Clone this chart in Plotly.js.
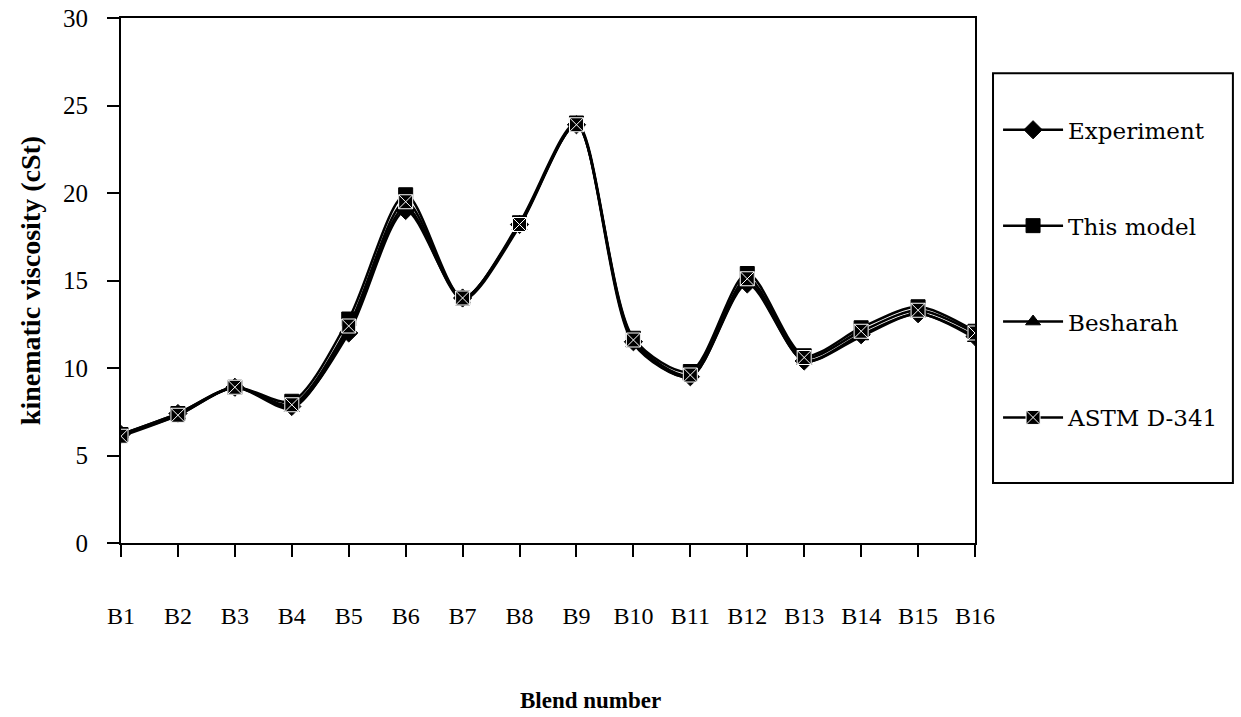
<!DOCTYPE html>
<html>
<head>
<meta charset="utf-8">
<script src="https://cdn.plot.ly/plotly-3.0.1.min.js"></script>
<style>
  html, body { margin: 0; padding: 0; background: #ffffff; }
  #chart { width: 1241px; height: 717px; }
</style>
</head>
<body>
<div id="chart"></div>
<script>
// Blend categories
const blends = ["B1","B2","B3","B4","B5","B6","B7","B8","B9","B10","B11","B12","B13","B14","B15","B16"];

// Kinematic viscosity (cSt)
const experiment = [6.2, 7.4, 8.9, 7.8, 12.0, 19.0, 14.0, 18.2, 23.9, 11.5, 9.5, 14.8, 10.4, 11.9, 13.1, 11.8];
const thisModel  = [6.2, 7.4, 8.9, 8.1, 12.8, 19.9, 14.0, 18.3, 24.0, 11.7, 9.8, 15.4, 10.7, 12.3, 13.5, 12.1];
const besharah   = [6.2, 7.3, 8.9, 7.7, 12.2, 19.2, 13.9, 18.1, 23.9, 11.4, 9.5, 14.9, 10.4, 11.8, 13.1, 11.7];
const astmD341   = [6.1, 7.3, 8.9, 7.9, 12.4, 19.5, 14.0, 18.2, 23.9, 11.6, 9.6, 15.1, 10.6, 12.1, 13.3, 12.0];

const seriesNames = ["Experiment", "This model", "Besharah", "ASTM D-341"];
const yTicks = [0, 5, 10, 15, 20, 25, 30];

const serif = "Liberation Serif, Times New Roman, serif";
const tickFontY = { family: serif, size: 25, color: "#000" };
const tickFontX = { family: serif, size: 24, color: "#000" };
const yTitleFont = { family: serif, size: 28, color: "#000", weight: "bold" };
const xTitleFont = { family: serif, size: 23, color: "#000", weight: "bold" };

function series(name, y, symbol, size, lineColor, group) {
  return {
    type: "scatter",
    mode: "lines+markers",
    name: name,
    legendgroup: group,
    x: blends,
    y: y,
    line: { color: "#000", width: 2.5, shape: "spline", smoothing: 0.8 },
    marker: { symbol: symbol, size: size, color: "#000", line: { color: lineColor, width: 1 } }
  };
}

const data = [
  series(seriesNames[0], experiment, "diamond", 14, "#000", "g1"),
  series(seriesNames[1], thisModel, "square", 14, "#000", "g2"),
  series(seriesNames[2], besharah, "triangle-up", 13, "#000", "g3"),
  series(seriesNames[3], astmD341, "square-x", 14, "#fff", "g4")
];

const layout = {
  width: 1241,
  height: 717,
  paper_bgcolor: "#ffffff",
  plot_bgcolor: "#ffffff",
  margin: { l: 121, r: 266, t: 18, b: 174, autoexpand: false },
  showlegend: true,
  legend: {
    x: 1.027, xanchor: "left",
    y: 0.828, yanchor: "top",
    bgcolor: "rgba(0,0,0,0)",
    borderwidth: 0,
    font: { family: "DejaVu Serif, Liberation Serif, serif", size: 23, color: "#000" },
    tracegroupgap: 63,
    itemwidth: 60
  },
  xaxis: {
    type: "category",
    range: [0, 15],
    showgrid: false,
    zeroline: false,
    showline: true,
    linecolor: "#000",
    linewidth: 2,
    mirror: true,
    ticks: "outside",
    ticklen: 12,
    tickwidth: 2,
    tickcolor: "#000",
    tickfont: tickFontX,
    ticklabelstandoff: 38,
    automargin: false
  },
  yaxis: {
    range: [0, 30],
    tickvals: yTicks,
    ticktext: yTicks.map(String),
    showgrid: false,
    zeroline: false,
    showline: true,
    linecolor: "#000",
    linewidth: 2,
    mirror: true,
    ticks: "outside",
    ticklen: 12,
    tickwidth: 2,
    tickcolor: "#000",
    tickfont: tickFontY,
    ticklabelstandoff: 14,
    automargin: false,
    title: { text: "kinematic viscosity (cSt)", font: yTitleFont, standoff: 14 }
  },
  annotations: [
    {
      text: "Blend number", xref: "paper", yref: "paper",
      x: 0.55, y: -0.30, xanchor: "center", yanchor: "middle",
      showarrow: false, font: xTitleFont
    }
  ],
  shapes: [
    {
      type: "rect", xref: "paper", yref: "paper",
      x0: 1.0211, x1: 1.302, y0: 0.1143, y1: 0.895,
      line: { color: "#000", width: 2 }, fillcolor: "rgba(0,0,0,0)"
    }
  ]
};

Plotly.newPlot("chart", data, layout, { staticPlot: true, displayModeBar: false });
</script>
</body>
</html>
